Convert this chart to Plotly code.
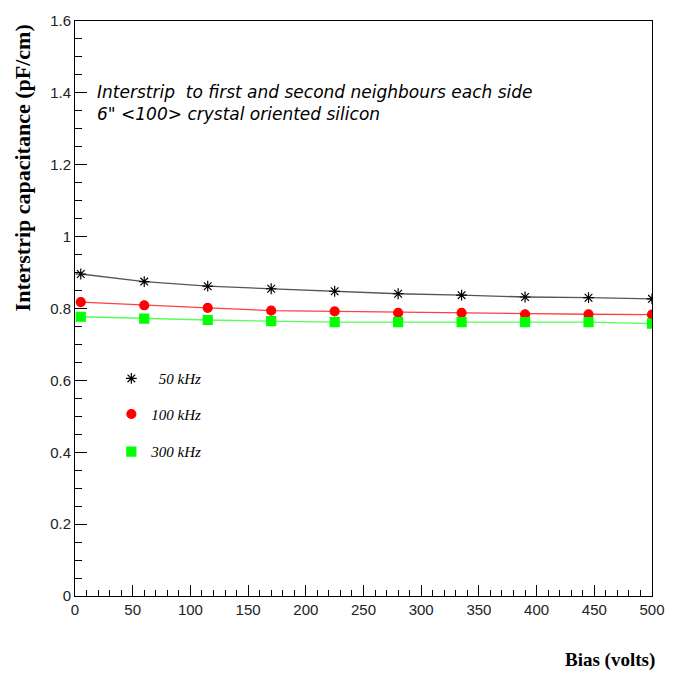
import plotly.graph_objects as go

bias = [5, 60, 115, 170, 225, 280, 335, 390, 445, 500]
cap_50k = [0.896, 0.875, 0.862, 0.855, 0.848, 0.841, 0.837, 0.832, 0.830, 0.827]
cap_100k = [0.818, 0.809, 0.802, 0.794, 0.792, 0.788, 0.788, 0.784, 0.784, 0.783]
cap_300k = [0.777, 0.772, 0.768, 0.765, 0.762, 0.762, 0.762, 0.762, 0.762, 0.758]

series = [
    ("\u00a0\u00a050 kHz", cap_50k, "#555555", "black", "asterisk-open", 9, "legend"),
    ("100 kHz", cap_100k, "#ff4040", "#ff0000", "circle", 9, "legend2"),
    ("300 kHz", cap_300k, "#55ff55", "#00ff00", "square", 9, "legend3"),
]

fig = go.Figure()
for name, vals, lc, mc, sym, sz, lg in series:
    fig.add_trace(go.Scatter(x=bias, y=vals, mode="lines", line=dict(color=lc, width=1.3),
                             showlegend=False, hoverinfo="skip"))
    fig.add_trace(go.Scatter(x=bias, y=vals, mode="markers", name=name,
                             marker=dict(color=mc, symbol=sym, size=sz,
                                         line=dict(color=mc, width=1.2)),
                             legend=lg))

leg_font = dict(family="Liberation Serif, Times New Roman, serif", size=15, color="black",
                style="italic")
def leg(y):
    return dict(x=0.063, y=y, xanchor="left", yanchor="middle", bgcolor="rgba(0,0,0,0)",
                font=leg_font, itemwidth=30, borderwidth=0)

tickfont = dict(family="Liberation Sans, Arial, sans-serif", size=15, color="#222222")
fig.update_layout(
    width=677, height=674,
    margin=dict(l=75, r=21, t=14, b=78),
    paper_bgcolor="white", plot_bgcolor="white",
    legend=leg(0.3780), legend2=leg(0.3161), legend3=leg(0.2508),
    xaxis=dict(range=[0, 500], dtick=50, ticks="inside", ticklen=11, tickcolor="black",
               showline=True, linecolor="black", linewidth=1, mirror=True, showgrid=False,
               zeroline=False, tickfont=tickfont,
               minor=dict(dtick=10, ticks="inside", ticklen=6, tickcolor="black")),
    yaxis=dict(range=[0, 1.6], dtick=0.2, ticks="inside", ticklen=12, tickcolor="black",
               showline=True, linecolor="black", linewidth=1, mirror=True, showgrid=False,
               zeroline=False, tickfont=tickfont,
               minor=dict(dtick=0.05, ticks="inside", ticklen=7, tickcolor="black")),
    annotations=[
        dict(text="<b>Interstrip capacitance (pF/cm)</b>", textangle=-90, xref="paper", yref="paper",
             x=-0.0905, y=0.745, xanchor="center", yanchor="middle", showarrow=False,
             font=dict(family="Liberation Serif, Times New Roman, serif", size=22, color="black")),
        dict(text="<b>Bias (volts)</b>", xref="paper", yref="paper", x=1.008, y=-0.112,
             xanchor="right", yanchor="middle", showarrow=False,
             font=dict(family="Liberation Serif, Times New Roman, serif", size=19, color="black")),
        dict(text="<i>Interstrip  to first and second neighbours each side</i>", xref="paper", yref="paper",
             x=0.035, y=0.877, xanchor="left", yanchor="middle", showarrow=False,
             font=dict(family="DejaVu Sans, sans-serif", size=17, color="black")),
        dict(text="<i>6\" <100> crystal oriented silicon</i>", xref="paper", yref="paper",
             x=0.035, y=0.839, xanchor="left", yanchor="middle", showarrow=False,
             font=dict(family="DejaVu Sans, sans-serif", size=17, color="black")),
    ],
)

fig.write_html("out.html")
